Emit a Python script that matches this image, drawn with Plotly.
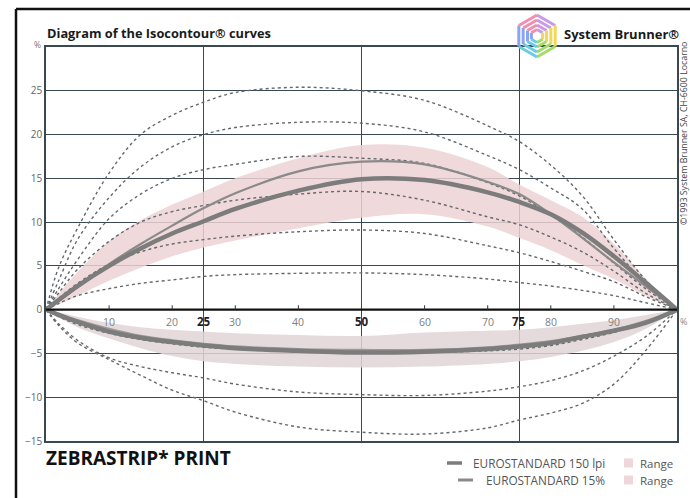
import math
import plotly.graph_objects as go

# Tone value axis (%) shared by all curves
tone = [0, 2, 5, 10, 15, 20, 25, 30, 40, 50, 60, 70, 75, 80, 85, 90, 95, 100]

# Isocontour family (dotted), dot gain in % above the zero line
iso_a = [0, 4.8, 9.3, 15.6, 20.0, 22.2, 23.7, 24.8, 25.4, 25.0, 23.9, 21.0, 19.2, 16.5, 13.0, 8.0, 3.4, 0]
iso_b = [0, 3.3, 8.0, 12.8, 16.3, 18.6, 20.0, 20.8, 21.4, 21.3, 20.3, 17.6, 16.0, 13.9, 11.5, 7.0, 3.0, 0]
iso_c = [0, 2.4, 5.7, 10.4, 13.2, 15.0, 16.0, 16.6, 17.5, 17.3, 16.7, 14.5, 13.0, 10.8, 8.3, 5.3, 2.4, 0]
iso_d = [0, 1.9, 4.6, 7.8, 10.0, 11.2, 11.9, 12.5, 13.2, 13.5, 12.5, 10.6, 9.7, 8.3, 6.6, 4.4, 1.9, 0]
iso_e = [0, 1.3, 3.0, 5.2, 6.6, 7.5, 8.0, 8.4, 8.9, 9.1, 8.7, 7.3, 6.5, 5.5, 4.4, 3.2, 1.5, 0]
iso_f = [0, 0.7, 1.6, 2.4, 3.0, 3.4, 3.8, 4.0, 4.15, 4.2, 4.0, 3.5, 3.1, 2.7, 2.2, 1.6, 0.8, 0]
# Isocontour family (dotted) below the zero line
iso_l1 = [0, -0.8, -1.7, -2.7, -3.4, -3.9, -4.3, -4.5, -4.8, -4.9, -4.9, -4.7, -4.5, -4.1, -3.4, -2.6, -1.5, 0]
iso_l2 = [0, -1.6, -3.5, -5.5, -6.5, -7.2, -7.8, -8.5, -9.4, -9.7, -9.8, -9.3, -8.8, -8.1, -7.0, -5.3, -3.1, 0]
iso_l3 = [0, -1.8, -3.8, -5.7, -7.5, -9.2, -10.4, -11.7, -13.4, -14.0, -14.2, -13.5, -12.6, -11.8, -10.7, -8.5, -4.7, 0]

# EUROSTANDARD curves
euro150_up = [0, 1.1, 2.7, 5.0, 7.0, 8.7, 10.1, 11.5, 13.6, 14.9, 14.8, 13.4, 12.3, 10.9, 8.8, 6.1, 3.1, 0]
euro150_dn = [0, -0.6, -1.4, -2.5, -3.2, -3.7, -4.1, -4.4, -4.7, -4.9, -4.8, -4.5, -4.2, -3.8, -3.1, -2.4, -1.5, 0]
euro15_up = [0, 1.0, 2.6, 5.2, 7.5, 9.6, 11.6, 13.3, 15.8, 16.9, 16.6, 14.6, 13.2, 10.9, 8.2, 5.4, 2.7, 0]
euro15_dn = [0, -0.5, -1.2, -2.2, -3.0, -3.5, -3.9, -4.2, -4.5, -4.6, -4.6, -4.3, -4.0, -3.6, -3.0, -2.3, -1.3, 0]

# Tolerance ranges
range_up_hi = [0, 1.8, 4.3, 7.8, 10.2, 12.0, 13.5, 15.0, 17.3, 18.8, 18.5, 16.3, 14.3, 12.5, 10.6, 7.5, 3.6, 0]
range_up_lo = [0, 0.6, 1.6, 3.3, 4.8, 6.1, 7.1, 7.9, 9.3, 10.5, 10.9, 9.5, 8.2, 6.8, 5.1, 3.5, 1.6, 0]
range_dn_hi = [0, -0.3, -0.8, -1.5, -2.0, -2.3, -2.5, -2.7, -2.9, -3.0, -2.6, -2.4, -2.3, -2.0, -1.6, -1.2, -0.6, 0]
range_dn_lo = [0, -0.9, -2.0, -3.3, -4.4, -5.3, -5.9, -6.2, -6.5, -6.6, -6.5, -6.2, -5.9, -5.4, -4.7, -3.7, -2.2, 0]

y_ticks = [-15, -10, -5, 0, 5, 10, 15, 20, 25]
x_minor = [10, 20, 30, 40, 60, 70, 80, 90]
x_major = [25, 50, 75]

W, H = 690, 498
L, R, T, B = 46, 13, 47, 57
PW, PH = W - L - R, H - T - B


def px(x):
    return (x - L) / PW


def py(y):
    return (H - B - y) / PH


GRID = "#3a4852"
DOT = "#65696d"
FONT = "Open Sans, DejaVu Sans, sans-serif"

fig = go.Figure()


def band(lo, hi, color):
    fig.add_trace(go.Scatter(x=tone, y=lo, mode="lines", line=dict(width=0, shape="spline"),
                             hoverinfo="skip", showlegend=False))
    fig.add_trace(go.Scatter(x=tone, y=hi, mode="lines", line=dict(width=0, shape="spline"),
                             fill="tonexty", fillcolor=color, hoverinfo="skip", showlegend=False))


band(range_up_lo, range_up_hi, "rgba(236,210,211,0.85)")
band(range_dn_lo, range_dn_hi, "rgba(226,213,214,0.85)")

for ys in [iso_a, iso_b, iso_c, iso_d, iso_e, iso_f, iso_l1, iso_l2, iso_l3]:
    fig.add_trace(go.Scatter(x=tone, y=ys, mode="lines",
                             line=dict(color=DOT, width=1.4, dash="dot", shape="spline"),
                             showlegend=False))

fig.add_trace(go.Scatter(x=tone, y=euro15_up, mode="lines",
                         line=dict(color="#8a8a8a", width=2.2, shape="spline"), showlegend=False))
fig.add_trace(go.Scatter(x=tone, y=euro15_dn, mode="lines",
                         line=dict(color="#9a9a9a", width=2.2, shape="spline"), showlegend=False))
fig.add_trace(go.Scatter(x=tone, y=euro150_up, mode="lines",
                         line=dict(color="#7c7c7c", width=4.5, shape="spline"), showlegend=False))
fig.add_trace(go.Scatter(x=tone, y=euro150_dn, mode="lines",
                         line=dict(color="#7c7c7c", width=4.5, shape="spline"), showlegend=False))

shapes = []
# zero line
shapes.append(dict(type="line", xref="x", yref="y", x0=0, x1=100, y0=0, y1=0,
                   line=dict(color="#111", width=2.2), layer="above"))
# small tick marks on the zero line
for v in x_minor:
    shapes.append(dict(type="line", xref="x", yref="y", x0=v, x1=v, y0=0, y1=0.5,
                       line=dict(color="#333", width=1), layer="above"))
# outer frame
shapes.append(dict(type="line", xref="paper", yref="paper", x0=px(16), x1=px(692), y0=py(9), y1=py(9),
                   line=dict(color="#111", width=2.5)))
shapes.append(dict(type="line", xref="paper", yref="paper", x0=px(16), x1=px(16), y0=py(9), y1=py(500),
                   line=dict(color="#111", width=2.5)))

# hexagon logo
hex_colors = ["#c99be6", "#f0d85a", "#a6db6a", "#6ccbe4", "#8aa3f2", "#f08fb0"]
cx, cy = 537, 36
for r in [21, 16, 11, 6.5]:
    pts = [(cx + r * math.cos(math.radians(-90 + 60 * k)), cy + r * math.sin(math.radians(-90 + 60 * k)))
           for k in range(7)]
    for k in range(6):
        (x0, y0), (x1, y1) = pts[k], pts[k + 1]
        shapes.append(dict(type="line", xref="paper", yref="paper",
                           x0=px(x0), y0=py(y0), x1=px(x1), y1=py(y1),
                           line=dict(color=hex_colors[k], width=3)))

# legend swatches
shapes.append(dict(type="line", xref="paper", yref="paper", x0=px(447), x1=px(462), y0=py(463), y1=py(463),
                   line=dict(color="#7c7c7c", width=3.5)))
shapes.append(dict(type="line", xref="paper", yref="paper", x0=px(458), x1=px(473), y0=py(480), y1=py(480),
                   line=dict(color="#8a8a8a", width=3)))
for yy in [463, 480]:
    shapes.append(dict(type="rect", xref="paper", yref="paper", x0=px(624), x1=px(633), y0=py(yy + 4.5),
                       y1=py(yy - 4.5), fillcolor="#efd6da", line=dict(width=0)))

ann = []
for v in x_minor:
    ann.append(dict(x=v, y=0, xref="x", yref="y", text=str(v), showarrow=False, yshift=-12,
                    font=dict(family=FONT, size=10.5, color="#808080")))
for v in x_major:
    ann.append(dict(x=v, y=0, xref="x", yref="y", text="<b>%d</b>" % v, showarrow=False, yshift=-12,
                    font=dict(family=FONT, size=11.5, color="#222")))


def text(x, y, s, size, color, anchor="left", bold=False, angle=0):
    ann.append(dict(x=px(x), y=py(y), xref="paper", yref="paper", text=("<b>%s</b>" % s) if bold else s,
                    showarrow=False, xanchor=anchor, yanchor="middle", textangle=angle,
                    borderpad=0, font=dict(family=FONT, size=size, color=color)))


text(46, 33, "Diagram of the Isocontour® curves", 12.8, "#1a1a1a", bold=True)
text(33, 44, "%", 8.5, "#777")
text(679, 321, "%", 9, "#888")
text(563, 34, "System Brunner®", 13, "#1a1a1a", bold=True)
text(684, 133, "©1993 System Brunner SA, CH-6600 Locarno", 8.8, "#444", anchor="center", angle=-90)
text(45, 458, "ZEBRASTRIP* PRINT", 19, "#111", bold=True)
text(606, 463, "EUROSTANDARD 150 lpi", 11.8, "#555", anchor="right")
text(606, 480, "EUROSTANDARD 15%", 11.8, "#555", anchor="right")
text(639, 463, "Range", 11.5, "#555")
text(639, 480, "Range", 11.5, "#555")

fig.update_layout(
    width=W, height=H, margin=dict(l=L, r=R, t=T, b=B),
    paper_bgcolor="white", plot_bgcolor="white",
    shapes=shapes, annotations=ann,
    xaxis=dict(range=[0, 100], tickvals=x_major, showticklabels=False, ticks="",
               showgrid=True, gridcolor=GRID, gridwidth=1.2, zeroline=False,
               showline=True, linecolor=GRID, linewidth=1.5, mirror=True, fixedrange=True),
    yaxis=dict(range=[-15, 30], tickvals=y_ticks, ticks="", showgrid=True, gridcolor=GRID, gridwidth=1.2,
               zeroline=False, showline=True, linecolor=GRID, linewidth=1.5, mirror=True,
               tickfont=dict(family=FONT, size=10, color="#666"), fixedrange=True),
    showlegend=False,
)

fig.write_html("out.html")
